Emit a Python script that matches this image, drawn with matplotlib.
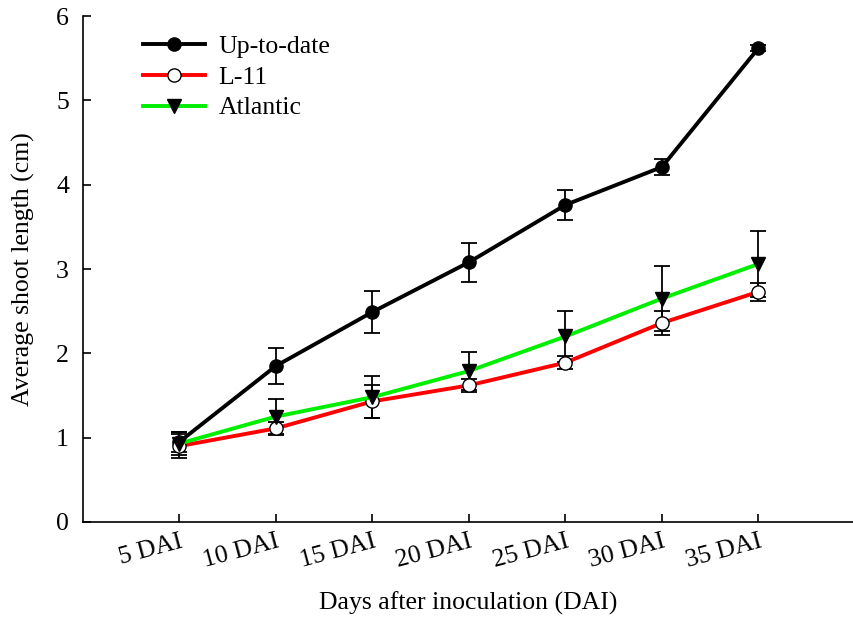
import matplotlib
matplotlib.use("Agg")
import matplotlib.pyplot as plt
import numpy as np

# Data
days = ["5 DAI", "10 DAI", "15 DAI", "20 DAI", "25 DAI", "30 DAI", "35 DAI"]

uptodate = [0.95, 1.85, 2.49, 3.08, 3.76, 4.21, 5.62]
uptodate_err = [0.12, 0.21, 0.25, 0.23, 0.18, 0.10, 0.04]

l11 = [0.90, 1.11, 1.43, 1.62, 1.89, 2.36, 2.73]
l11_err = [0.14, 0.08, 0.20, 0.08, 0.08, 0.14, 0.11]

atlantic = [0.93, 1.25, 1.48, 1.79, 2.20, 2.65, 3.06]
atlantic_err = [0.14, 0.21, 0.25, 0.23, 0.30, 0.38, 0.39]

plt.rcParams['font.family'] = ['Liberation Serif', 'DejaVu Serif']
FS = 18.5

fig = plt.figure(figsize=(8.54, 6.17), dpi=100)
ax = fig.add_axes([0.097, 0.154, 0.903, 0.820])

x = np.arange(1, len(days) + 1)

series = [
    (uptodate, uptodate_err, 'black', 'o', 'black', 'Up-to-date'),
    (l11, l11_err, '#ff0000', 'o', 'white', 'L-11'),
    (atlantic, atlantic_err, '#00ee00', 'v', 'black', 'Atlantic'),
]

for vals, err, col, mk, mfc, lab in series:
    ax.errorbar(x, vals, yerr=err, fmt='none', ecolor='black',
                elinewidth=1.3, capsize=6, capthick=1.3, zorder=2)
    ax.plot(x, vals, color=col, lw=2.8, marker=mk, markersize=9.5,
            markerfacecolor=mfc, markeredgecolor='black',
            markeredgewidth=1.0, label=lab, zorder=3)

ax.set_xlim(0, 7.99)
ax.set_ylim(0, 6)
ax.set_xticks(x)
ax.set_xticklabels(days, rotation=15, fontsize=FS, ha='right',
                   rotation_mode='anchor')
ax.set_yticks(range(0, 7))
ax.tick_params(axis='y', labelsize=FS, direction='in', length=6, width=1.2, pad=10)
ax.tick_params(axis='x', direction='in', length=6, width=1.2, pad=6)

for s in ['top', 'right']:
    ax.spines[s].set_visible(False)
for s in ['left', 'bottom']:
    ax.spines[s].set_linewidth(1.2)

ax.set_xlabel('Days after inoculation (DAI)', fontsize=FS, labelpad=14)
ax.set_ylabel('Average shoot length (cm)', fontsize=FS, labelpad=15)

ax.legend(loc='upper left', bbox_to_anchor=(0.048, 1.008), frameon=False,
          fontsize=FS, handlelength=2.4, handletextpad=0.55,
          labelspacing=0.3)

fig.savefig('out.png', dpi=100)
